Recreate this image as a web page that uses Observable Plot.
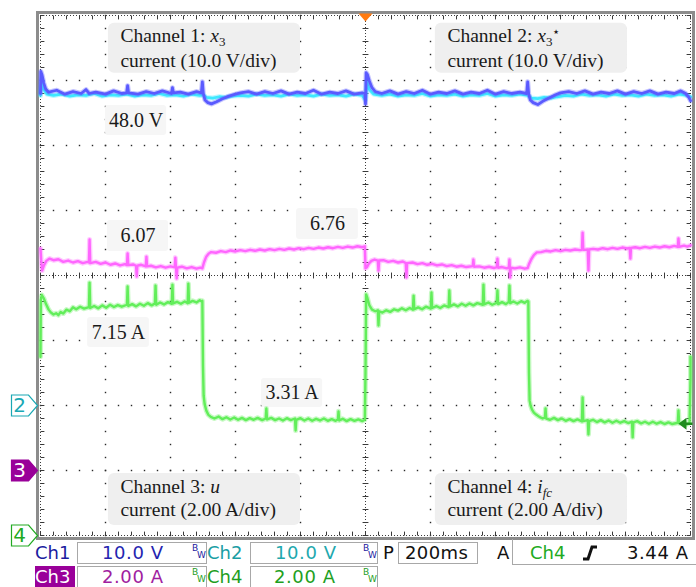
<!DOCTYPE html>
<html><head><meta charset="utf-8">
<script src="https://cdn.jsdelivr.net/npm/d3@7"></script>
<script src="https://cdn.jsdelivr.net/npm/@observablehq/plot@0.6"></script>
<style>
html,body{margin:0;padding:0;background:#fff;}
#wrap{position:relative;width:696px;height:587px;overflow:hidden;}
#wrap svg{position:absolute;left:0;top:0;}
.p{position:absolute;font-family:"DejaVu Sans",sans-serif;font-size:18px;line-height:21px;height:21px;white-space:nowrap;}
.box{position:absolute;border:1.5px solid #a8a8a8;box-sizing:border-box;}
.bw{position:absolute;font-family:"DejaVu Sans",sans-serif;font-size:9px;line-height:9px;}
</style>
</head><body><div id="wrap"></div>
<script>
// ---- data: time in ms (200 ms/div, trigger at 0) ----
const chNames = ["Ch1", "Ch2", "Ch3", "Ch4"];
const chScale = [10, 10, 2, 2];       // units per division
const chGround = [2, 2, 1, 0];        // ground position (divisions from bottom)
const trigLevel = 3.44;               // A, on Ch4

// Ch1 : x3 (V)
const ch1 = [[-1000,48.0],[-999,51.4],[-995,50.8],[-990,49.6],[-984,48.7],[-975,48.2],[-950,48.5],[-925,47.9],[-900,48.3],[-875,48.0],[-860,48.6],[-850,48.0],[-830,48.2],[-800,47.9],[-775,48.4],[-750,48.0],[-735,48.1],[-732,49.2],[-729,48.1],[-700,47.9],[-675,48.3],[-650,48.0],[-625,48.4],[-597,48.0],[-594,48.9],[-591,48.1],[-570,48.2],[-545,47.9],[-520,48.3],[-505,48.1],[-502,49.8],[-499,48.0],[-494,47.0],[-485,46.6],[-474,46.4],[-460,46.7],[-440,47.2],[-420,47.6],[-400,47.9],[-385,48.1],[-360,48.3],[-335,47.9],[-310,48.3],[-285,48.0],[-260,48.4],[-235,47.9],[-210,48.2],[-185,48.0],[-160,48.5],[-135,47.9],[-110,48.2],[-85,48.0],[-60,48.4],[-35,47.9],[-10,48.1],[-2,48.0],[0,46.4],[2,51.2],[6,50.9],[12,49.9],[20,48.9],[30,48.3],[50,48.0],[75,48.4],[100,47.9],[125,48.3],[150,48.0],[175,48.5],[200,47.9],[225,48.2],[250,48.0],[275,48.4],[300,47.9],[325,48.2],[350,48.0],[375,48.5],[400,47.9],[425,48.3],[450,48.0],[475,48.2],[496,48.0],[499,49.8],[502,48.0],[507,47.0],[516,46.6],[530,46.3],[545,46.8],[565,47.3],[585,47.8],[600,48.1],[625,48.3],[650,48.0],[675,48.4],[700,47.9],[725,48.2],[750,48.0],[775,48.4],[800,47.9],[825,48.3],[850,48.0],[875,48.4],[900,47.9],[925,48.2],[950,48.0],[970,48.4],[985,48.0],[995,47.4],[1000,46.9]];

// Ch2 : x3* (V)
const ch2 = [[-1000,47.7],[-996,50.2],[-990,48.6],[-980,47.9],[-960,47.7],[-935,47.9],[-910,47.6],[-885,47.8],[-860,47.7],[-835,48.0],[-810,47.6],[-785,47.8],[-760,47.7],[-735,47.9],[-710,47.6],[-685,47.8],[-660,47.7],[-635,48.0],[-610,47.7],[-585,47.8],[-560,47.6],[-535,47.9],[-510,47.7],[-500,47.8],[-490,47.4],[-470,47.3],[-450,47.5],[-430,47.4],[-410,47.6],[-385,47.7],[-360,47.6],[-335,47.9],[-310,47.7],[-285,47.8],[-260,47.6],[-235,47.9],[-210,47.7],[-185,47.8],[-160,47.6],[-135,47.9],[-110,47.7],[-85,47.8],[-60,47.6],[-35,47.9],[-10,47.7],[0,47.0],[4,49.8],[12,48.6],[25,47.9],[50,47.7],[75,47.9],[100,47.6],[125,47.8],[150,47.7],[175,48.0],[200,47.6],[225,47.8],[250,47.7],[275,47.9],[300,47.6],[325,47.8],[350,47.7],[375,48.0],[400,47.6],[425,47.8],[450,47.7],[475,47.9],[500,47.7],[510,47.3],[530,47.2],[550,47.4],[570,47.3],[590,47.5],[615,47.7],[640,47.6],[665,47.9],[690,47.7],[715,47.8],[740,47.6],[765,47.9],[790,47.7],[815,47.8],[840,47.6],[865,47.9],[890,47.7],[915,47.8],[940,47.6],[965,47.9],[990,47.7],[1000,47.5]];

// Ch3 : u (A)
const ch3 = [[-1000,6.83],[-998,6.5],[-995,6.15],[-990,6.3],[-982,6.45],[-972,6.52],[-960,6.47],[-945,6.5],[-930,6.42],[-915,6.46],[-900,6.4],[-885,6.44],[-870,6.38],[-855,6.42],[-851,6.4],[-849,7.11],[-847,6.38],[-830,6.42],[-815,6.36],[-800,6.4],[-785,6.33],[-770,6.37],[-755,6.31],[-740,6.35],[-734,6.32],[-732,6.68],[-730,6.32],[-715,6.34],[-706,6.3],[-704,5.97],[-702,6.3],[-690,6.33],[-676,6.28],[-674,6.58],[-672,6.28],[-660,6.3],[-645,6.25],[-630,6.29],[-615,6.24],[-600,6.28],[-587,6.25],[-585,6.55],[-583,6.24],[-581,5.91],[-579,6.24],[-565,6.27],[-550,6.22],[-535,6.26],[-520,6.21],[-508,6.24],[-502,6.22],[-497,6.4],[-490,6.58],[-483,6.67],[-475,6.72],[-460,6.7],[-445,6.75],[-430,6.72],[-415,6.77],[-400,6.74],[-385,6.78],[-370,6.75],[-355,6.79],[-340,6.76],[-325,6.8],[-310,6.77],[-295,6.81],[-280,6.78],[-265,6.82],[-250,6.79],[-235,6.83],[-220,6.8],[-205,6.84],[-190,6.81],[-175,6.85],[-160,6.82],[-145,6.86],[-130,6.83],[-115,6.87],[-100,6.84],[-85,6.88],[-70,6.85],[-55,6.89],[-40,6.86],[-25,6.9],[-10,6.87],[-2,6.9],[0,6.22],[4,6.25],[10,6.36],[18,6.45],[28,6.49],[38,6.46],[40,6.15],[42,6.46],[55,6.47],[70,6.42],[85,6.45],[100,6.4],[115,6.43],[124,6.38],[126,5.94],[128,6.38],[145,6.4],[160,6.35],[175,6.38],[190,6.33],[205,6.36],[220,6.31],[235,6.34],[250,6.29],[265,6.32],[280,6.27],[295,6.3],[310,6.26],[330,6.29],[332,6.49],[334,6.27],[350,6.28],[365,6.24],[380,6.27],[395,6.23],[404,6.26],[406,6.52],[408,6.24],[420,6.26],[435,6.22],[441,6.25],[443,6.49],[445,5.94],[447,6.24],[460,6.22],[475,6.25],[490,6.21],[499,6.23],[503,6.35],[510,6.5],[518,6.63],[527,6.71],[540,6.72],[555,6.76],[570,6.74],[585,6.78],[600,6.75],[615,6.79],[630,6.77],[645,6.8],[660,6.78],[666,6.79],[668,7.32],[670,6.79],[684,6.8],[686,6.15],[688,6.8],[700,6.82],[715,6.8],[730,6.84],[745,6.81],[760,6.85],[775,6.82],[790,6.86],[805,6.83],[813,6.85],[815,6.52],[817,6.85],[830,6.87],[845,6.84],[860,6.88],[875,6.85],[890,6.89],[905,6.86],[920,6.9],[935,6.87],[950,6.91],[961,6.88],[963,7.14],[965,6.88],[980,6.92],[990,6.89],[1000,6.93]];

// Ch4 : i_fc (A)
const ch4 = [[-1000,5.5],[-999,7.25],[-996,7.4],[-990,7.3],[-983,7.12],[-975,6.95],[-968,6.86],[-960,6.8],[-952,6.84],[-945,6.78],[-938,6.88],[-930,6.83],[-920,6.95],[-910,6.9],[-900,7.02],[-890,6.96],[-878,7.04],[-866,6.98],[-851,7.03],[-849,7.78],[-847,7.0],[-835,7.06],[-822,6.99],[-810,7.08],[-798,7.01],[-786,7.1],[-774,7.03],[-762,7.09],[-750,7.04],[-734,7.1],[-732,7.66],[-730,7.06],[-718,7.12],[-706,7.05],[-694,7.13],[-682,7.07],[-670,7.15],[-658,7.08],[-648,7.14],[-646,7.69],[-644,7.1],[-632,7.17],[-620,7.11],[-608,7.18],[-596,7.13],[-594,7.72],[-592,7.14],[-580,7.19],[-568,7.13],[-556,7.2],[-547,7.15],[-545,7.75],[-543,7.16],[-532,7.22],[-520,7.17],[-510,7.24],[-504,7.2],[-502,7.22],[-500,5.2],[-498,4.3],[-495,4.05],[-490,3.85],[-484,3.72],[-476,3.65],[-465,3.6],[-452,3.66],[-440,3.58],[-428,3.64],[-416,3.57],[-404,3.63],[-392,3.56],[-380,3.62],[-368,3.55],[-356,3.61],[-344,3.56],[-332,3.62],[-318,3.55],[-307,3.6],[-305,3.91],[-303,3.57],[-290,3.62],[-278,3.55],[-266,3.6],[-254,3.54],[-242,3.61],[-230,3.55],[-217,3.6],[-215,3.23],[-213,3.56],[-200,3.61],[-188,3.54],[-176,3.6],[-164,3.53],[-152,3.59],[-140,3.54],[-128,3.6],[-116,3.53],[-104,3.58],[-92,3.53],[-85,3.57],[-83,3.82],[-81,3.54],[-70,3.59],[-58,3.52],[-46,3.58],[-34,3.53],[-22,3.57],[-10,3.52],[-2,3.56],[0,5.0],[2,7.42],[6,7.3],[12,7.08],[20,6.95],[30,6.9],[38,6.93],[40,6.46],[42,6.9],[52,6.86],[64,6.93],[76,6.88],[88,6.96],[100,6.92],[112,6.99],[124,6.93],[136,7.0],[146,6.95],[148,7.38],[150,6.96],[162,7.02],[174,6.96],[186,7.04],[201,6.98],[203,7.48],[205,7.0],[218,7.06],[230,7.0],[242,7.08],[256,7.03],[258,7.54],[260,7.05],[272,7.11],[284,7.05],[296,7.13],[308,7.07],[320,7.14],[332,7.08],[344,7.15],[361,7.1],[363,7.72],[365,7.11],[378,7.17],[390,7.1],[404,7.16],[406,7.54],[408,7.12],[420,7.18],[432,7.12],[441,7.19],[443,7.69],[445,7.15],[455,7.2],[467,7.14],[479,7.21],[490,7.16],[498,7.22],[501,7.2],[503,5.0],[505,4.15],[508,4.0],[512,3.88],[518,3.78],[525,3.72],[535,3.65],[545,3.6],[552,3.63],[554,3.91],[556,3.6],[568,3.56],[580,3.62],[592,3.55],[604,3.6],[616,3.53],[628,3.58],[640,3.52],[652,3.57],[666,3.51],[668,4.25],[670,3.52],[684,3.55],[686,3.11],[688,3.52],[700,3.56],[712,3.49],[724,3.55],[736,3.48],[748,3.54],[760,3.47],[772,3.53],[784,3.47],[796,3.52],[808,3.46],[820,3.5],[822,3.02],[824,3.48],[836,3.52],[848,3.45],[860,3.5],[872,3.44],[884,3.5],[896,3.44],[908,3.49],[920,3.43],[932,3.48],[944,3.43],[961,3.47],[963,3.85],[965,3.45],[977,3.47],[989,3.42],[997,3.46],[1000,4.8],[1000,5.5]];

// annotation texts
const boxTexts = [["Channel 1: x3", "current (10.0 V/div)"], ["Channel 2: x3*", "current (10.0 V/div)"], ["Channel 3: u", "current (2.00 A/div)"], ["Channel 4: ifc", "current (2.00 A/div)"]];
const valueLabels = ["48.0 V", "6.07", "6.76", "7.15 A", "3.31 A"];
const markerLabels = ["2", "3", "4"];

// ---- layout (in time/division coordinates) ----
const boxLayout = [
  {x1: -791, x2: -200, y1: 7.11, y2: 7.88, tx: -754, ty1: 7.69, ty2: 7.31},
  {x1: 215, x2: 806, y1: 7.11, y2: 7.88, tx: 252, ty1: 7.69, ty2: 7.31},
  {x1: -791, x2: -200, y1: 0.154, y2: 0.954, tx: -754, ty1: 0.75, ty2: 0.39},
  {x1: 215, x2: 806, y1: 0.154, y2: 0.954, tx: 252, ty1: 0.75, ty2: 0.39}
];
const labelLayout = [
  {x1: -800, x2: -612, y1: 6.154, y2: 6.615},
  {x1: -794, x2: -606, y1: 4.369, y2: 4.846},
  {x1: -212, x2: -22, y1: 4.554, y2: 5.031},
  {x1: -855, x2: -665, y1: 2.892, y2: 3.354},
  {x1: -320, x2: -132, y1: 1.969, y2: 2.415}
];
const markerStyle = [
  {ch: 1, fill: "#ffffff", stroke: "#1aa8b4", text: "#1aa8b4"},
  {ch: 2, fill: "#990099", stroke: "#990099", text: "#ffffff"},
  {ch: 3, fill: "#ffffff", stroke: "#22aa22", text: "#22aa22"}
];
const traceColors = ["#5a5aff", "#3ee8ff", "#ff66ff", "#62ee5a"];

const toDiv = (i) => (v) => chGround[i] + v / chScale[i];
const traces = [ch1, ch2, ch3, ch4].map((arr, i) => arr.map(([t, v]) => ({t, d: toDiv(i)(v)})));

const boxes = boxLayout.map((b, i) => ({...b, l1: boxTexts[i][0], l2: boxTexts[i][1]}));
const labels = labelLayout.map((b, i) => ({...b, text: valueLabels[i]}));
const markers = markerStyle.map((m, i) => ({...m, label: markerLabels[i], d: chGround[m.ch]}));

// grid helpers
const divT = d3.range(-1000, 1001, 200);
const subT = d3.range(-1000, 1001, 40);
const subD = d3.range(0, 8.0001, 0.2);
const gridV = [];
for (const t of divT) if (t !== -1000 && t !== 1000 && t !== 0) for (const d of subD) gridV.push({t, d});
const gridH = [];
for (let d = 1; d < 8; d++) if (d !== 4) for (const t of subT) gridH.push({t, d});

const pointer = {draw(ctx) { ctx.moveTo(-13, -10.5); ctx.lineTo(4, -10.5); ctx.lineTo(13, 0); ctx.lineTo(4, 10.5); ctx.lineTo(-13, 10.5); ctx.closePath(); }};
const downTri = {draw(ctx) { ctx.moveTo(-7, -3); ctx.lineTo(7, -3); ctx.lineTo(0, 5); ctx.closePath(); }};
const leftArrow = {draw(ctx) { ctx.moveTo(-6, 0); ctx.lineTo(2, -6); ctx.lineTo(2, 6); ctx.closePath(); ctx.rect(2, -1.2, 6, 2.4); }};

const serif = "Liberation Serif, Times New Roman, serif";
const tickCol = "#3a3a3a";
const traceOrder = [1, 0, 2, 3];

const plot = Plot.plot({
  width: 696, height: 587,
  marginLeft: 40, marginRight: 6, marginTop: 15, marginBottom: 52,
  x: {domain: [-1000, 1000], axis: null},
  y: {domain: [0, 8], axis: null},
  style: {background: "transparent", overflow: "visible"},
  marks: [
    Plot.dot(gridV, {x: "t", y: "d", r: 0.8, symbol: "square", fill: "#2a2a2a", stroke: null}),
    Plot.dot(gridH, {x: "t", y: "d", r: 0.8, symbol: "square", fill: "#2a2a2a", stroke: null}),
    Plot.ruleX([0], {stroke: tickCol, strokeDasharray: "1,2", strokeWidth: 1}),
    Plot.ruleY([4], {stroke: tickCol, strokeDasharray: "1,2", strokeWidth: 1}),
    Plot.link(subD, {x1: -9, x2: 9, y1: d => d, y2: d => d, stroke: tickCol, strokeWidth: 1}),
    Plot.link(subT, {x1: t => t, x2: t => t, y1: 3.955, y2: 4.045, stroke: tickCol, strokeWidth: 1}),
    // border ticks
    Plot.link(subT, {x1: t => t, x2: t => t, y1: 8, y2: 7.94, stroke: tickCol, strokeWidth: 1}),
    Plot.link(subT, {x1: t => t, x2: t => t, y1: 0, y2: 0.06, stroke: tickCol, strokeWidth: 1}),
    Plot.link(subD, {x1: -1000, x2: -988, y1: d => d, y2: d => d, stroke: tickCol, strokeWidth: 1}),
    Plot.link(subD, {x1: 1000, x2: 988, y1: d => d, y2: d => d, stroke: tickCol, strokeWidth: 1}),
    Plot.ruleY([0, 8], {stroke: tickCol, strokeDasharray: "1,2", strokeWidth: 1}),
    Plot.ruleX([-1000, 1000], {stroke: tickCol, strokeDasharray: "1,2", strokeWidth: 1}),
    Plot.frame({stroke: "#8c8c8c", strokeWidth: 3, inset: -3}),
    // annotation boxes
    Plot.rect(boxes, {x1: "x1", x2: "x2", y1: "y1", y2: "y2", fill: "#efefef", rx: 6}),
    Plot.rect(labels, {x1: "x1", x2: "x2", y1: "y1", y2: "y2", fill: "#f6f6f6", rx: 3}),
    // traces: a faint noise band under each trace, then the trace itself
    ...traceOrder.flatMap(i => [
      Plot.line(traces[i], {x: "t", y: "d", stroke: traceColors[i], strokeWidth: 5, strokeOpacity: 0.35}),
      Plot.line(traces[i], {x: "t", y: "d", stroke: traceColors[i], strokeWidth: i < 2 ? 2.8 : 2.4})
    ]),
    // texts
    Plot.text(boxes, {x: "tx", y: "ty1", text: "l1", textAnchor: "start", fontFamily: serif, fontSize: 19.5, fill: "#1a1a1a"}),
    Plot.text(boxes, {x: "tx", y: "ty2", text: "l2", textAnchor: "start", fontFamily: serif, fontSize: 19.5, fill: "#1a1a1a"}),
    Plot.text(labels, {x: d => (d.x1 + d.x2) / 2, y: d => (d.y1 + d.y2) / 2, text: "text", fontFamily: serif, fontSize: 20, fill: "#1a1a1a"}),
    // channel ground markers
    Plot.dot(markers, {x: () => -1000, y: "d", symbol: pointer, dx: -16, fill: "fill", stroke: "stroke", strokeWidth: 1.2, strokeDasharray: d => d.ch === 2 ? null : "1.5,1"}),
    Plot.text(markers, {x: () => -1000, y: "d", text: "label", dx: -21, fill: "text", fontFamily: "DejaVu Sans", fontSize: 20}),
    // trigger position & level
    Plot.dot([0], {x: t => t, y: () => 8, symbol: downTri, fill: "#ff7a10", stroke: null, dy: 1}),
    Plot.dot([trigLevel], {x: () => 1000, y: v => toDiv(3)(v), symbol: leftArrow, fill: "#1e8c1e", stroke: null, dx: -6})
  ]
});

// rich text (italic math + sub/superscripts)
const richParts = {
  "Channel 1: x3": [["Channel 1: "], ["x", "i"], ["3", "sub"]],
  "Channel 2: x3*": [["Channel 2: "], ["x", "i"], ["3", "sub"], ["\u22C6", "sup"]],
  "Channel 3: u": [["Channel 3: "], ["u", "i"]],
  "Channel 4: ifc": [["Channel 4: "], ["i", "i"], ["fc", "isub"]]
};
plot.querySelectorAll("text").forEach(el => {
  const parts = richParts[el.textContent];
  if (!parts) return;
  el.textContent = "";
  let shift = 0;
  for (const [s, kind = "", dx = 0] of parts) {
    const ts = document.createElementNS("http://www.w3.org/2000/svg", "tspan");
    ts.textContent = s;
    const target = kind.includes("sub") ? 4 : kind.includes("sup") ? -6 : 0;
    if (target !== shift) ts.setAttribute("dy", target - shift);
    shift = target;
    if (dx) ts.setAttribute("dx", dx);
    if (kind.startsWith("i")) ts.setAttribute("font-style", "italic");
    if (kind.includes("sub") || kind.includes("sup")) ts.setAttribute("font-size", "13");
    el.appendChild(ts);
  }
});

const wrap = document.getElementById("wrap");
wrap.appendChild(plot);

// ---- bottom status panel ----
const panelChannels = [
  {name: chNames[0], value: "10.0 V", col: "#1c1ca0", vcol: "#2424b0", row: 0, nx: 35, bx: 77, bw: 130, vx: 102},
  {name: chNames[1], value: "10.0 V", col: "#1a9ea4", vcol: "#1ea8ae", row: 0, nx: 207, bx: 250, bw: 128, vx: 275},
  {name: chNames[2], value: "2.00 A", col: "#ffffff", vcol: "#a01ea0", row: 1, nx: 35, bx: 77, bw: 130, vx: 102, bg: "#990099"},
  {name: chNames[3], value: "2.00 A", col: "#1e9e1e", vcol: "#1ea01e", row: 1, nx: 207, bx: 250, bw: 128, vx: 274}
];
const rowTop = [542, 566];
let html = "";
for (const c of panelChannels) {
  const top = rowTop[c.row];
  html += `<div class="box" style="left:${c.bx}px;top:${top}px;width:${c.bw}px;height:22px;"></div>`;
  html += `<div class="p" style="left:${c.nx}px;top:${top}px;color:${c.col};${c.bg ? `background:${c.bg};width:40px;height:22px;` : ""}">${c.name}</div>`;
  html += `<div class="p" style="left:${c.vx}px;top:${top}px;color:${c.vcol};letter-spacing:0.6px;">${c.value}</div>`;
  html += `<div class="bw" style="left:${c.bx + c.bw - 15}px;top:${top + 2}px;color:${c.row ? "#1e9e1e" : "#1c1ca0"};">B</div>`;
  html += `<div class="bw" style="left:${c.bx + c.bw - 10}px;top:${top + 9}px;color:${c.row ? "#1e9e1e" : "#1c1ca0"};">W</div>`;
}
html += `<div class="p" style="left:383px;top:542px;color:#111;">P</div>`;
html += `<div class="box" style="left:398px;top:542px;width:80px;height:22px;"></div>`;
html += `<div class="p" style="left:405px;top:542px;color:#111;letter-spacing:0.4px;">200ms</div>`;
html += `<div class="p" style="left:497px;top:542px;color:#111;">A</div>`;
html += `<div style="position:absolute;left:512px;top:539px;width:184px;height:26px;border-left:1.5px solid #a8a8a8;border-bottom:1.5px solid #a8a8a8;box-sizing:border-box;"></div>`;
html += `<div class="p" style="left:530px;top:542px;color:#22aa22;">${chNames[3]}</div>`;
html += `<svg style="position:absolute;left:582px;top:545px" width="16" height="16"><path d="M1,14 L6,14 L10,2 L15,2" fill="none" stroke="#111" stroke-width="3"/></svg>`;
html += `<div class="p" style="left:627px;top:542px;color:#111;letter-spacing:0.6px;">${trigLevel.toFixed(2)} A</div>`;
const panel = document.createElement("div");
panel.innerHTML = html;
wrap.appendChild(panel);
</script>
</body></html>
